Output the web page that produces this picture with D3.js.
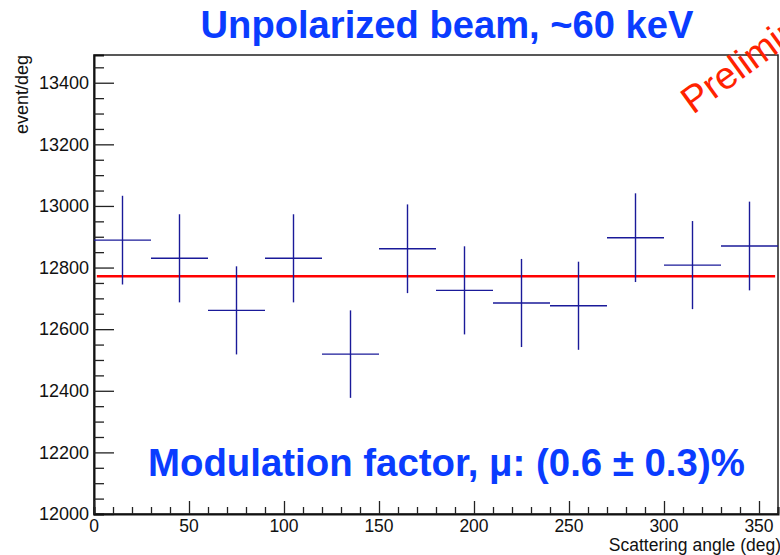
<!DOCTYPE html>
<html>
<head>
<meta charset="utf-8">
<script src="https://cdn.jsdelivr.net/npm/d3@7"></script>
<style>
  html, body { margin: 0; padding: 0; background: #fff; }
  #chart { width: 780px; height: 555px; overflow: hidden; }
  text { font-family: "Liberation Sans", Arial, sans-serif; }
</style>
</head>
<body>
<div id="chart"></div>
<script>
// bin centres (deg), bin half width, counts per deg and their errors
const binCenters = [15, 45, 75, 105, 135, 165, 195, 225, 255, 285, 315, 345];
const binHalf = 15;
const counts = [12889, 12830, 12661, 12830, 12519, 12861, 12726, 12685, 12676, 12897, 12808, 12870];
const errors = [144, 143, 143, 143, 142, 144, 143, 143, 143, 144, 143, 144];
const fitValue = 12772;
const fitRange = [1.5, 358.5];

const xTicks = [0, 50, 100, 150, 200, 250, 300, 350];
const yTicks = [12000, 12200, 12400, 12600, 12800, 13000, 13200, 13400];

const titleText = 'Unpolarized beam, ~60 keV';
const modText = 'Modulation factor, \u03bc: (0.6 \u00b1 0.3)%';

const width = 780, height = 555;
const margin = { top: 55, right: 2, bottom: 41, left: 94 };

const svg = d3.select('#chart').append('svg')
  .attr('width', width)
  .attr('height', height);

const x = d3.scaleLinear().domain([0, 360]).range([margin.left, width - margin.right]);
const y = d3.scaleLinear().domain([12000, 13490]).range([height - margin.bottom, margin.top]);

// 텍스트 폭 맞추기
function fitText(sel, target) {
  const w = sel.node().getComputedTextLength();
  const fs = parseFloat(sel.attr('font-size'));
  sel.attr('font-size', fs * target / w);
}

// frame
svg.append('rect')
  .attr('x', x(0)).attr('y', y(13490))
  .attr('width', x(360) - x(0)).attr('height', y(12000) - y(13490))
  .attr('fill', 'none').attr('stroke', '#222').attr('stroke-width', 1.5);

// y axis (ticks inside)
const yAxis = d3.axisRight(y)
  .tickValues(d3.range(12000, 13490, 50))
  .tickSize(10)
  .tickFormat('');
const gy = svg.append('g')
  .attr('transform', `translate(${x(0)},0)`)
  .call(yAxis);
gy.select('.domain').attr('stroke', '#111').attr('stroke-width', 2);
gy.selectAll('.tick line')
  .attr('stroke', '#222').attr('stroke-width', 1.3)
  .attr('x2', d => (d % 200 === 0 ? 20 : 10));

svg.append('g').selectAll('text')
  .data(yTicks)
  .join('text')
  .attr('x', x(0) - 5)
  .attr('y', d => y(d))
  .attr('dy', '0.35em')
  .attr('text-anchor', 'end')
  .attr('font-size', 18)
  .attr('fill', '#111')
  .text(d => d);

// x axis (ticks inside)
const xAxis = d3.axisTop(x)
  .tickValues(d3.range(0, 361, 10))
  .tickSize(7)
  .tickFormat('');
const gx = svg.append('g')
  .attr('transform', `translate(0,${y(12000)})`)
  .call(xAxis);
gx.select('.domain').attr('stroke', '#111').attr('stroke-width', 2);
gx.selectAll('.tick line')
  .attr('stroke', '#222').attr('stroke-width', 1.3)
  .attr('y2', d => (d % 50 === 0 ? -13 : -7));

svg.append('g').selectAll('text')
  .data(xTicks)
  .join('text')
  .attr('x', d => x(d))
  .attr('y', y(12000) + 18)
  .attr('text-anchor', 'middle')
  .attr('font-size', 17.5)
  .attr('fill', '#111')
  .text(d => d);

// axis titles
svg.append('text')
  .attr('x', 781).attr('y', 551)
  .attr('text-anchor', 'end')
  .attr('font-size', 17.5)
  .attr('fill', '#111')
  .text('Scattering angle (deg)');

svg.append('text')
  .attr('transform', `translate(28,${margin.top}) rotate(-90)`)
  .attr('text-anchor', 'end')
  .attr('font-size', 18)
  .attr('fill', '#111')
  .text('event/deg');

// fit line
svg.append('line')
  .attr('x1', x(fitRange[0])).attr('x2', x(fitRange[1]))
  .attr('y1', y(fitValue)).attr('y2', y(fitValue))
  .attr('stroke', '#ff0000').attr('stroke-width', 2.4);

// data crosses
const pts = svg.append('g')
  .attr('stroke', '#1a1a99').attr('stroke-width', 1.4);
pts.selectAll('.hbar')
  .data(binCenters)
  .join('line')
  .attr('class', 'hbar')
  .attr('x1', d => x(d - binHalf)).attr('x2', d => x(d + binHalf))
  .attr('y1', (d, i) => y(counts[i])).attr('y2', (d, i) => y(counts[i]));
pts.selectAll('.vbar')
  .data(binCenters)
  .join('line')
  .attr('class', 'vbar')
  .attr('x1', d => x(d)).attr('x2', d => x(d))
  .attr('y1', (d, i) => y(counts[i] + errors[i]))
  .attr('y2', (d, i) => y(counts[i] - errors[i]));

// title
const title = svg.append('text')
  .attr('x', 447).attr('y', 38)
  .attr('text-anchor', 'middle')
  .attr('font-family', 'Lato, "Open Sans", sans-serif')
  .attr('font-weight', 900)
  .attr('font-size', 33)
  .attr('fill', '#0a3cff')
  .text(titleText);
fitText(title, 493);

// modulation factor
const mod = svg.append('text')
  .attr('x', 148).attr('y', 476)
  .attr('font-family', 'Lato, "Open Sans", sans-serif')
  .attr('font-weight', 900)
  .attr('font-size', 28)
  .attr('fill', '#0a3cff')
  .text(modText);
fitText(mod, 597);

// preliminary stamp
svg.append('text')
  .attr('transform', 'translate(693,115) rotate(-36)')
  .attr('font-family', 'Lato, "Open Sans", sans-serif')
  .attr('font-size', 38)
  .attr('fill', '#ff2200')
  .text('Preliminary');
</script>
</body>
</html>
